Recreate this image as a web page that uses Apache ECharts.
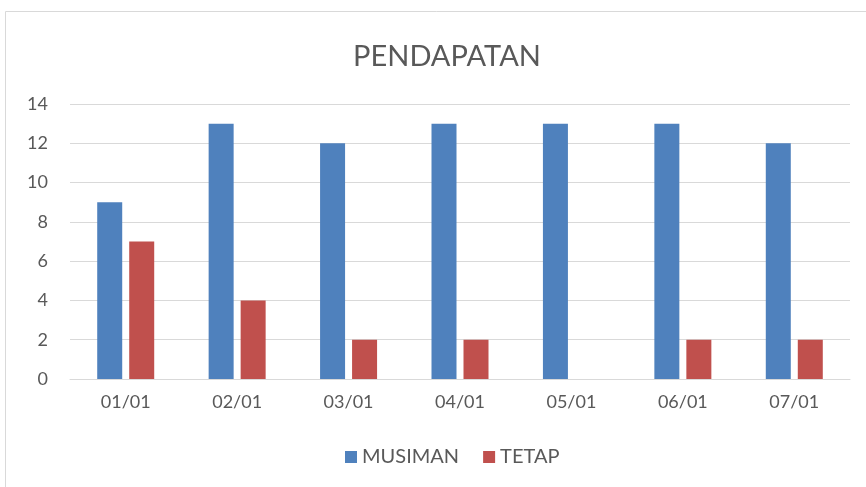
<!doctype html>
<html lang="en">
<head>
    <meta charset="UTF-8">
    <title>PENDAPATAN</title>
    <style>
        html, body { margin: 0; padding: 0; background: #fff; }
        #chart { width: 866px; height: 487px; }
    </style>
</head>
<body>
<div id="chart"></div>
<script src="https://cdn.jsdelivr.net/npm/echarts@6/dist/echarts.min.js"></script>
<script>
    var categories = ['01/01', '02/01', '03/01', '04/01', '05/01', '06/01', '07/01'];
    var musiman = [9, 13, 12, 13, 13, 13, 12];
    var tetap = [7, 4, 2, 2, 0, 2, 2];
    var yTicks = [0, 2, 4, 6, 8, 10, 12, 14];

    var font = 'Lato, "Open Sans", sans-serif';
    var textColor = '#595959';

    var myChart = echarts.init(document.getElementById('chart'));
    myChart.setOption({
        animation: false,
        graphic: [{
            type: 'rect',
            shape: {x: 5.5, y: 11.5, width: 900, height: 600},
            style: {fill: 'none', stroke: '#d9d9d9', lineWidth: 1}
        }],
        title: {
            text: 'PENDAPATAN',
            left: 442,
            textAlign: 'center',
            top: 37,
            textStyle: {fontFamily: font, fontSize: 29, fontWeight: 'normal', color: textColor}
        },
        legend: {
            bottom: 15,
            left: 340,
            itemWidth: 12,
            itemHeight: 12,
            itemGap: 24,
            icon: 'rect',
            textStyle: {fontFamily: font, fontSize: 20, color: textColor}
        },
        grid: {
            left: 70,
            right: 16,
            top: 104,
            bottom: 108
        },
        xAxis: {
            type: 'category',
            data: categories,
            axisTick: {show: false},
            axisLine: {lineStyle: {color: '#d9d9d9', width: 1}},
            axisLabel: {fontFamily: font, fontSize: 18, color: textColor, margin: 14}
        },
        yAxis: {
            type: 'value',
            min: yTicks[0],
            max: yTicks[yTicks.length - 1],
            interval: 2,
            axisLine: {show: false},
            axisTick: {show: false},
            splitLine: {lineStyle: {color: '#d9d9d9', width: 1}},
            axisLabel: {fontFamily: font, fontSize: 18, color: textColor, margin: 22}
        },
        series: [{
            name: 'MUSIMAN',
            type: 'bar',
            data: musiman,
            barWidth: 25,
            barGap: '28%',
            itemStyle: {color: '#4f81bd'}
        }, {
            name: 'TETAP',
            type: 'bar',
            data: tetap,
            barWidth: 25,
            itemStyle: {color: '#c0504d'}
        }]
    });
</script>
</body>
</html>
